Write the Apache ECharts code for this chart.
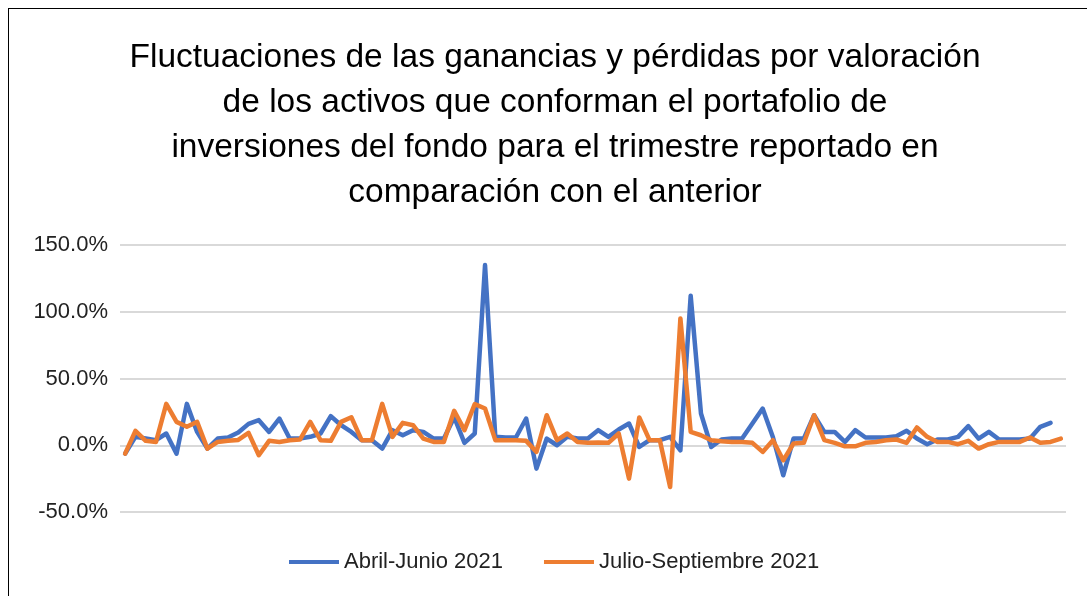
<!DOCTYPE html>
<html>
<head>
<meta charset="utf-8">
<script src="https://cdn.jsdelivr.net/npm/echarts@6/dist/echarts.min.js"></script>
<style>
html,body{margin:0;padding:0;background:#fff;}
#frame{position:absolute;left:8px;top:8px;width:1090px;height:600px;border:1.5px solid #000;box-sizing:border-box;}
#chart{position:absolute;left:0;top:0;width:1087px;height:596px;}
</style>
</head>
<body>
<div id="frame"></div>
<div id="chart"></div>
<script>
const titleLines = [
  'Fluctuaciones de las ganancias y pérdidas por valoración',
  'de los activos que conforman el portafolio de',
  'inversiones del fondo para el trimestre reportado en',
  'comparación con el anterior'
];
const seriesNames = ['Abril-Junio 2021', 'Julio-Septiembre 2021'];
const yTicks = [-50, 0, 50, 100, 150];

const abrilJunio = [
  -6.3, 6.3, 5, 3.8, 8.8, -6.3, 31, 10, -2.5, 5,
  5.8, 9.5, 16, 18.8, 10, 20, 5, 5, 6.3, 8.8,
  21.8, 15, 10, 3.8, 3.8, -2.5, 11.3, 7.5, 11.3, 10,
  5, 5, 21, 1.8, 8.8, 135, 6.3, 5.8, 5.8, 20,
  -17.5, 5, 0, 6.3, 5, 5, 11.3, 6.3, 11.8, 16.3,
  -1.3, 3.8, 3.8, 6.3, -3.8, 112, 23.8, -1.3, 4.3, 5,
  5, 16.3, 27.5, 6, -22.5, 5, 5, 22.5, 10, 10,
  2.5, 11.3, 5.8, 5.8, 5.8, 6.8, 10.8, 5, 0.8, 4.3,
  4.3, 6.3, 14.3, 5, 10, 4.3, 4.3, 4.3, 5, 13.8,
  16.8, null
];
const julioSeptiembre = [
  -6.3, 10.8, 3.3, 2.5, 31, 17.5, 13.8, 17.5, -2.5, 2.5,
  3.3, 4, 9.3, -7.5, 3.3, 2.5, 3.8, 4.3, 17.5, 3.8,
  3.3, 17.5, 21, 3.8, 3.8, 31, 6.3, 16.8, 15, 5,
  2.5, 2.5, 25.8, 11.3, 30.8, 27.5, 3.8, 3.8, 3.8, 3.3,
  -5, 22.5, 3.8, 8.8, 2.5, 1.8, 2, 1.8, 8.8, -25,
  20.8, 3.8, 3.8, -31.3, 95, 10, 7.5, 3.8, 3, 2.5,
  2.5, 1.8, -5, 3.8, -11.3, 1.3, 1.8, 22.5, 3.8, 1.8,
  -0.8, -0.8, 1.8, 2.5, 3.8, 4.3, 1.8, 13.3, 6.3, 2.5,
  2.5, 0.8, 3.3, -2.5, 0.8, 2.5, 2.5, 2.5, 5.8, 1.8,
  2.5, 5
];
const categories = julioSeptiembre.map((_, i) => String(i + 1));

const chart = echarts.init(document.getElementById('chart'), null, {renderer: 'canvas'});
const fontFamily = '"Liberation Sans", Arial, sans-serif';
chart.setOption({
  animation: false,
  backgroundColor: 'transparent',
  title: {
    text: titleLines.join('\n'),
    left: 550,
    top: 30,
    textAlign: 'center',
    textStyle: {fontFamily: fontFamily, fontSize: 33.5, fontWeight: 'normal', color: '#000', lineHeight: 45}
  },
  legend: {
    bottom: 18,
    left: 284,
    itemGap: 41,
    itemWidth: 50,
    itemHeight: 4,
    icon: 'rect',
    textStyle: {fontFamily: fontFamily, fontSize: 22, color: '#222'},
    data: seriesNames
  },
  grid: {left: 120, right: 21, top: 245, bottom: 84, containLabel: false},
  xAxis: {
    type: 'category',
    data: categories,
    boundaryGap: true,
    axisLine: {show: false},
    axisTick: {show: false},
    axisLabel: {show: false},
    splitLine: {show: false}
  },
  yAxis: {
    type: 'value',
    min: yTicks[0],
    max: yTicks[yTicks.length - 1],
    interval: 50,
    axisLine: {show: false},
    axisTick: {show: false},
    axisLabel: {
      margin: 12,
      fontFamily: fontFamily,
      fontSize: 22,
      color: '#222',
      formatter: v => v.toFixed(1) + '%'
    },
    splitLine: {lineStyle: {color: '#d9d9d9', width: 2}}
  },
  series: [
    {
      name: seriesNames[0], type: 'line', data: abrilJunio,
      symbol: 'none', connectNulls: false,
      lineStyle: {color: '#4472C4', width: 4.5, join: 'round', cap: 'round'},
      itemStyle: {color: '#4472C4'}
    },
    {
      name: seriesNames[1], type: 'line', data: julioSeptiembre,
      symbol: 'none',
      lineStyle: {color: '#ED7D31', width: 4.5, join: 'round', cap: 'round'},
      itemStyle: {color: '#ED7D31'}
    }
  ]
});
</script>
</body>
</html>
